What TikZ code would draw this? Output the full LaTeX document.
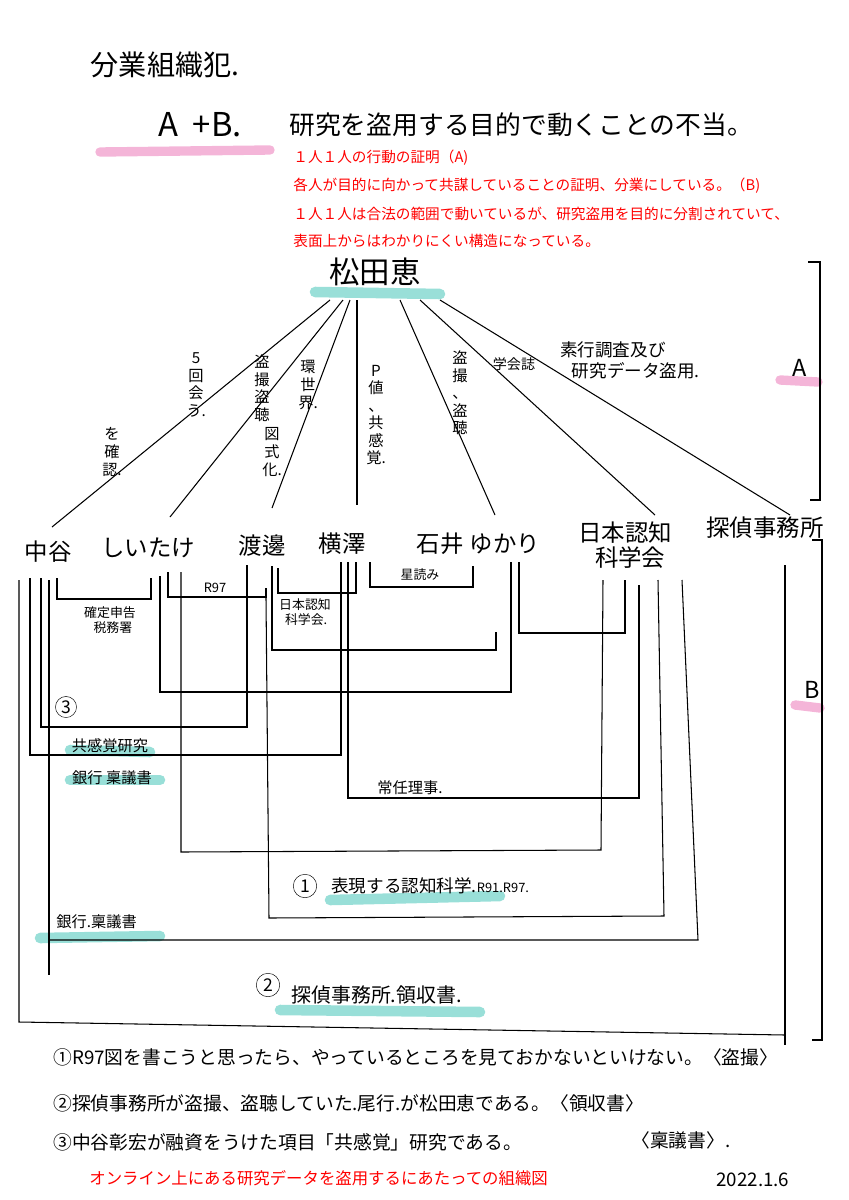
\documentclass[tikz,border=0pt]{standalone}
\usepackage{fontspec}
\setmainfont{Noto Sans CJK JP}
\usetikzlibrary{positioning}
\definecolor{marker}{RGB}{110, 210, 200}
\definecolor{pinkmark}{RGB}{240, 150, 200}

\begin{document}
\begin{tikzpicture}[x=0.03cm, y=-0.03cm,
    hand/.style={font=\fontsize{20}{22}\selectfont, inner sep=1pt},
    stack/.style={font=\fontsize{13}{15}\selectfont, inner sep=1pt, align=center},
    small/.style={font=\fontsize{11}{13}\selectfont, inner sep=1pt, align=center},
    note/.style={font=\fontsize{16}{18}\selectfont, anchor=west, inner sep=1pt},
    redline/.style={font=\fontsize{12.5}{14}\selectfont, text=red, anchor=west, inner sep=1pt},
    link/.style={line width=0.9pt},
    hl/.style={line width=9pt, marker, opacity=0.7, line cap=round},
    pk/.style={line width=8pt, pinkmark, opacity=0.7, line cap=round}]
    \useasboundingbox (0,0) rectangle (849,1200);

    % Highlights
    \draw[pk] (100,152) -- (270,150);
    \draw[hl] (315,292) -- (440,294);
    \draw[hl] (70,750) -- (150,752);
    \draw[hl] (70,780) -- (160,780);
    \draw[hl] (40,938) -- (160,936);
    \draw[hl] (330,900) -- (500,896);
    \draw[hl] (280,1010) -- (480,1012);
    \draw[pk] (780,380) -- (818,382);
    \draw[pk] (795,705) -- (820,708);

    % Header
    \node[hand, font=\fontsize{24}{26}\selectfont] (title) at (165,65) {分業組織犯.};
    \node[hand, font=\fontsize{28}{30}\selectfont] (ab) at (200,125) {A \ +B.};
    \node[hand, font=\fontsize{22}{24}\selectfont, anchor=west] (claim) at (288,125) {研究を盗用する目的で動くことの不当。};
    \node[redline] (r1) at (292,158) {１人１人の行動の証明（A)};
    \node[redline] (r2) at (292,186) {各人が目的に向かって共謀していることの証明、分業にしている。（B)};
    \node[redline] (r3) at (292,214) {１人１人は合法の範囲で動いているが、研究盗用を目的に分割されていて、};
    \node[redline] (r4) at (292,241) {表面上からはわかりにくい構造になっている。};

    % Persons
    \node[hand, font=\fontsize{26}{28}\selectfont] (matsuda) at (375,272) {松田恵};
    \node[hand] (nakatani) at (48,552) {中谷};
    \node[hand] (shiitake) at (148,548) {しいたけ};
    \node[hand] (watanabe) at (262,546) {渡邊};
    \node[hand] (yokosawa) at (342,544) {横澤};
    \node[hand] (ishii) at (440,544) {石井};
    \node[hand] (yukari) at (505,544) {ゆかり};
    \node[hand, align=center] (gakkai) at (625,545) {日本認知\\\ \ 科学会};
    \node[hand] (tantei) at (765,528) {探偵事務所};

    % Fan from Matsuda
    \coordinate (tNaka) at (52,527);
    \coordinate (tShii) at (170,517);
    \coordinate (tWata) at (272,508);
    \coordinate (tYoko) at (357,505);
    \coordinate (tYuka) at (495,515);
    \coordinate (tGak) at (655,515);
    \coordinate (tTan) at (790,515);
    \draw[link] (330,300) -- (tNaka);
    \draw[link] (343,300) -- (tShii);
    \draw[link] (350,300) -- (tWata);
    \draw[link] (357,300) -- (tYoko);
    \draw[link] (400,300) -- (tYuka);
    \draw[link] (420,300) -- (tGak);
    \draw[link] (440,300) -- (tTan);

    % Fan labels
    \node[stack] at (196,385) {5\\回\\会\\う.};
    \node[stack] at (112,452) {を\\確\\認.};
    \node[stack] at (262,388) {盗\\撮\\盗\\聴};
    \node[stack] at (308,385) {環\\世\\界.};
    \node[stack] at (272,452) {図\\式\\化.};
    \node[stack] at (376,415) {P\\値\\、\\共\\感\\覚.};
    \node[stack] at (460,393) {盗\\撮\\、\\盗\\聴};
    \node[stack, font=\fontsize{12}{14}\selectfont] at (514,364) {学会誌};
    \node[stack, align=left, font=\fontsize{15}{18}\selectfont] at (630,360) {素行調査及び\\\ \ \ 研究データ盗用.};

    % Brackets A, B
    \draw[link] (808,262) -- (820,262) -- (820,500) -- (810,500);
    \node[hand] (labA) at (800,368) {A};
    \draw[link] (812,540) -- (822,540) -- (822,1040) -- (812,1040);
    \node[hand] (labB) at (812,690) {B};

    % Links between persons
    \draw[link] (57,578) -- (57,599) -- (151,599) -- (151,578);
    \node[small] at (110,620) {確定申告\\\ \ 税務署};
    \draw[link] (168,572) -- (168,597) -- (266,597) -- (266,588);
    \node[small] at (215,588) {R97};
    \draw[link] (278,568) -- (278,593) -- (356,593) -- (356,562);
    \node[small, align=left] at (305,612) {日本認知\\\ \ 科学会.};
    \draw[link] (370,562) -- (370,587) -- (473,587) -- (473,566);
    \node[small] at (420,575) {星読み};
    \draw[link] (519,562) -- (519,633) -- (625,633) -- (625,580);
    \draw[link] (272,566) -- (272,650) -- (496,650) -- (496,632);
    \draw[link] (160,576) -- (160,692) -- (511,692) -- (511,562);
    \draw[link] (41,578) -- (41,727) -- (247,727) -- (247,565);
    \node[hand, font=\fontsize{15}{16}\selectfont, draw, circle, inner sep=0pt, minimum size=18pt] at (66,707) {3};
    \node[small, font=\fontsize{13}{14}\selectfont] at (110,746) {共感覚研究};
    \draw[link] (30,578) -- (30,755) -- (341,755) -- (341,562);
    \node[small, font=\fontsize{13}{14}\selectfont] at (112,778) {銀行 稟議書};
    \draw[link] (348,562) -- (348,798) -- (639,798) -- (639,585);
    \node[small, font=\fontsize{13}{14}\selectfont] at (410,788) {常任理事.};
    \draw[link] (181,572) -- (181,852) -- (601,850) -- (603,580);
    \draw[link] (266,598) -- (269,918) -- (664,916) -- (658,580);
    \node[hand, font=\fontsize{15}{16}\selectfont, draw, circle, inner sep=0pt, minimum size=20pt] at (305,886) {1};
    \node[small, font=\fontsize{15}{16}\selectfont, anchor=west] at (330,886) {表現する認知科学.\fontsize{11}{12}\selectfont R91.R97.};
    \draw[link] (49,580) -- (49,975);
    \draw[link] (49,940) -- (698,940) -- (682,580);
    \node[small, font=\fontsize{13}{14}\selectfont, anchor=west] at (55,922) {銀行.稟議書};
    \draw[link] (19,580) -- (19,1022) -- (785,1035);
    \draw[link] (785,565) -- (785,1045);
    \node[hand, font=\fontsize{15}{16}\selectfont, draw, circle, inner sep=0pt, minimum size=20pt] at (268,985) {2};
    \node[small, font=\fontsize{17}{18}\selectfont, anchor=west] at (290,995) {探偵事務所.領収書.};

    % Notes
    \node[note] (n1) at (52,1057) {①R97図を書こうと思ったら、やっているところを見ておかないといけない。〈盗撮〉};
    \node[note] (n2) at (52,1103) {②探偵事務所が盗撮、盗聴していた.尾行.が松田恵である。〈領収書〉};
    \node[note] (n3) at (52,1142) {③中谷彰宏が融資をうけた項目「共感覚」研究である。};
    \node[note] (n4) at (630,1140) {〈稟議書〉.};
    \node[redline, font=\fontsize{14}{16}\selectfont] (foot) at (88,1178) {オンライン上にある研究データを盗用するにあたっての組織図};
    \node[note] (date) at (715,1180) {2022.1.6};
\end{tikzpicture}
\end{document}
